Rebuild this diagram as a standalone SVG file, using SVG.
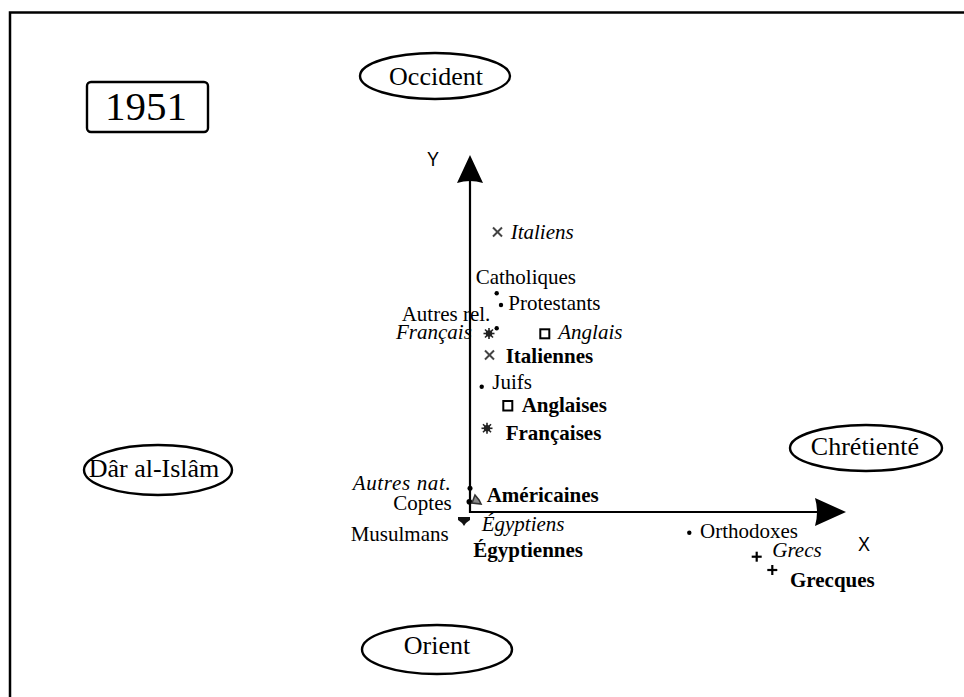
<svg xmlns="http://www.w3.org/2000/svg" width="964" height="697" viewBox="0 0 964 697">
<style>
.t{font-family:"Liberation Serif","Times New Roman",serif;font-size:21px;fill:#000}
.i{font-style:italic}
.b{font-weight:bold}
.big{font-size:26px}
.ax{font-family:"Liberation Sans",Arial,sans-serif;font-size:21px;fill:#000}
.el{fill:#fff;stroke:#000;stroke-width:2.4}
.dot{fill:#000}
.x{stroke:#444;stroke-width:2;fill:none}
.sq{fill:none;stroke:#000;stroke-width:2}
.pl{stroke:#000;stroke-width:2.2;fill:none}
</style>
<defs>
<g id="sun"><circle r="3.2" fill="#222"/><g stroke="#222" stroke-width="1.6"><line x1="-5.5" y1="0" x2="5.5" y2="0"/><line x1="0" y1="-5.5" x2="0" y2="5.5"/><line x1="-4" y1="-4" x2="4" y2="4"/><line x1="-4" y1="4" x2="4" y2="-4"/></g></g>
<g id="cross"><line x1="-4.5" y1="-4.5" x2="4.5" y2="4.5"/><line x1="-4.5" y1="4.5" x2="4.5" y2="-4.5"/></g>
<g id="plus"><line x1="-5" y1="0" x2="5" y2="0"/><line x1="0" y1="-5" x2="0" y2="5"/></g>
</defs>
<rect x="10" y="12.5" width="970" height="700" fill="#fff" stroke="#000" stroke-width="2.5"/>

<g id="year"><rect x="87" y="82" width="121" height="50" rx="4" fill="#fff" stroke="#000" stroke-width="2.4"/><text class="t" x="146" y="120" text-anchor="middle" style="font-size:41px">1951</text></g>
<g id="occident"><ellipse class="el" cx="435" cy="76" rx="75" ry="23"/><text class="t big" x="436" y="85" text-anchor="middle">Occident</text></g>
<g id="orient"><ellipse class="el" cx="437" cy="649.5" rx="75" ry="24.5"/><text class="t big" x="437" y="654" text-anchor="middle">Orient</text></g>
<g id="dar"><ellipse class="el" cx="158" cy="470" rx="74" ry="25"/><text class="t big" x="154" y="477" text-anchor="middle">Dâr al-Islâm</text></g>
<g id="chretiente"><ellipse class="el" cx="866" cy="448" rx="76" ry="23"/><text class="t big" x="865" y="455" text-anchor="middle">Chrétienté</text></g>

<g id="axes">
<line x1="470" y1="513" x2="470" y2="180" stroke="#000" stroke-width="2.2"/>
<path d="M470 155 L483 183 Q470 179 457 183 Z" fill="#000"/>
<line x1="469" y1="512" x2="818" y2="512" stroke="#000" stroke-width="2.2"/>
<path d="M846 512 L815 498 Q819 512 815 526 Z" fill="#000"/>
<text class="ax" x="427" y="166" textLength="12" lengthAdjust="spacingAndGlyphs">Y</text>
<text class="ax" x="858" y="551" textLength="12" lengthAdjust="spacingAndGlyphs">X</text>
</g>

<g id="italiens"><use href="#cross" class="x" x="497.5" y="232"/><text class="t i" x="510.7" y="238.5">Italiens</text></g>
<g id="catholiques"><circle class="dot" cx="496.7" cy="293.3" r="2.2"/><text class="t" x="475.7" y="284">Catholiques</text></g>
<g id="protestants"><circle class="dot" cx="501" cy="305" r="2.2"/><text class="t" x="508.3" y="310">Protestants</text></g>
<g id="autresrel"><circle class="dot" cx="496.7" cy="328.3" r="2.2"/><text class="t" x="401.7" y="321">Autres rel.</text></g>
<g id="francais"><use href="#sun" x="489" y="333.5"/><text class="t i" x="396" y="338.5">Français</text></g>
<g id="anglais"><rect class="sq" x="540.3" y="329.3" width="9" height="9"/><text class="t i" x="558.3" y="339.3">Anglais</text></g>
<g id="italiennes"><use href="#cross" class="x" x="489.5" y="355"/><text class="t b" x="505.7" y="363.3">Italiennes</text></g>
<g id="juifs"><circle class="dot" cx="481.7" cy="386.7" r="2.2"/><text class="t" x="492.3" y="389.3">Juifs</text></g>
<g id="anglaises"><rect class="sq" x="503.3" y="401" width="9" height="9.5"/><text class="t b" x="521.7" y="411.7">Anglaises</text></g>
<g id="francaises"><use href="#sun" x="487" y="428.3"/><text class="t b" x="505.7" y="440">Françaises</text></g>

<g id="autresnat"><circle class="dot" cx="470" cy="488.3" r="2.5"/><text class="t i" x="352.7" y="490" textLength="98" lengthAdjust="spacing">Autres nat.</text></g>
<g id="coptes"><circle class="dot" cx="469.3" cy="501.7" r="2.8"/><text class="t" x="393.3" y="510">Coptes</text></g>
<g id="americaines"><path d="M472 503 L475 495 L479 500 L481 504 Z" fill="#888" stroke="#333" stroke-width="1.6"/><text class="t b" x="486.7" y="501.7">Américaines</text></g>
<g id="egyptiens"><path d="M458 517 L470 517 L470 520 L466 523 L464 526 L462 523 L458 520 Z" fill="#111"/><text class="t i" x="481.7" y="530.7">Égyptiens</text></g>
<g id="musulmans"><text class="t" x="350.7" y="540.7">Musulmans</text></g>
<g id="egyptiennes"><text class="t b" x="473.3" y="556.7">Égyptiennes</text></g>

<g id="orthodoxes"><circle class="dot" cx="689.3" cy="532.7" r="2.2"/><text class="t" x="700" y="538.3">Orthodoxes</text></g>
<g id="grecs"><use href="#plus" class="pl" x="756.7" y="556.7"/><text class="t i" x="772.3" y="556.7">Grecs</text></g>
<g id="grecques"><use href="#plus" class="pl" x="772.3" y="570"/><text class="t b" x="790" y="586.7">Grecques</text></g>
</svg>
